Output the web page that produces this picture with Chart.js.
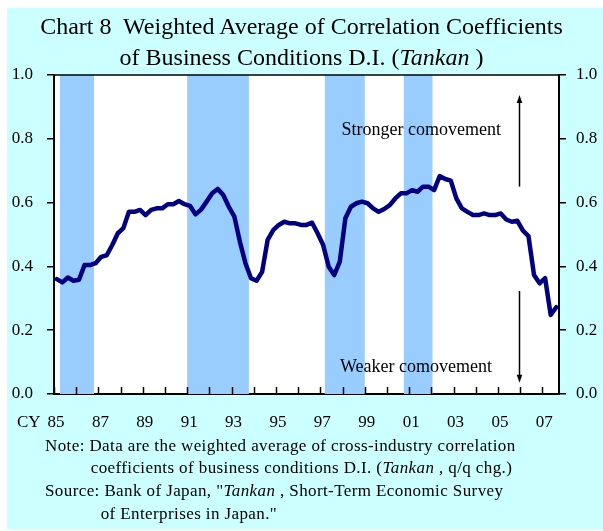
<!DOCTYPE html>
<html>
<head>
<meta charset="utf-8">
<script src="https://cdn.jsdelivr.net/npm/chart.js@4.4.1/dist/chart.umd.min.js"></script>
<style>
  html, body { margin: 0; padding: 0; background: #ffffff; }
  #wrap { position: relative; width: 603px; height: 531px; overflow: hidden; }
  #c { position: absolute; left: 0; top: 0; }
  .t { position: absolute; white-space: nowrap; font-family: 'Liberation Serif', 'Times New Roman', serif; color: #000; }
  #title { left: 0; top: 11px; width: 603px; text-align: center; font-size: 24px; line-height: 31px; }
  .note { font-size: 17px; line-height: 22.8px; letter-spacing: 0.4px; }
</style>
</head>
<body>
<div id="wrap">
  <canvas id="c" width="603" height="531"></canvas>
  <div class="t" id="title">Chart 8&nbsp; Weighted Average of Correlation Coefficients<br>of Business Conditions D.I. (<i>Tankan</i> )</div>
  <div class="t note" style="left:17px; top:411px; letter-spacing:0;">CY</div>
  <div class="t note" style="left:45px; top:434.6px;">Note: Data are the weighted average of cross-industry correlation</div>
  <div class="t note" style="left:90.7px; top:457.4px;">coefficients of business conditions D.I. (<i>Tankan</i> , q/q chg.)</div>
  <div class="t note" style="left:45px; top:480.2px;">Source: Bank of Japan, "<i>Tankan</i> , Short-Term Economic Survey</div>
  <div class="t note" style="left:100.7px; top:503px;">of Enterprises in Japan."</div>
</div>
<script>
// ---- data ----
const startYear = 1985;            // first quarter: 1985 Q1
const quarterValues = [
  0.360, 0.350, 0.365, 0.355, 0.358, 0.404, 0.404, 0.410, 0.430, 0.435,
  0.467, 0.504, 0.520, 0.571, 0.571, 0.577, 0.561, 0.577, 0.582, 0.582,
  0.595, 0.595, 0.605, 0.595, 0.590, 0.563, 0.578, 0.603, 0.629, 0.643,
  0.624, 0.587, 0.556, 0.477, 0.410, 0.363, 0.355, 0.383, 0.483, 0.514,
  0.530, 0.540, 0.535, 0.535, 0.530, 0.530, 0.537, 0.504, 0.467, 0.399,
  0.373, 0.415, 0.551, 0.587, 0.598, 0.603, 0.598, 0.582, 0.571, 0.580,
  0.592, 0.613, 0.629, 0.629, 0.639, 0.634, 0.650, 0.650, 0.639, 0.683,
  0.674, 0.669, 0.613, 0.582, 0.571, 0.561, 0.561, 0.566, 0.561, 0.561,
  0.566, 0.547, 0.540, 0.543, 0.512, 0.495, 0.373, 0.347, 0.363, 0.248,
  0.272
];
const tickYears  = [1985, 1987, 1989, 1991, 1993, 1995, 1997, 1999, 2001, 2003, 2005, 2007];
const tickLabels = ['85', '87', '89', '91', '93', '95', '97', '99', '01', '03', '05', '07'];
const bandStarts = [1985.27, 1991.00, 1997.20, 2000.76];
const bandEnds   = [1986.80, 1993.78, 1999.00, 2002.05];
const annotTexts = ['Stronger comovement', 'Weaker comovement'];
const annotX     = [1997.95, 1997.88];
const annotY     = [0.812, 0.070];
const arrowX     = [2005.95, 2005.95];
const arrowFrom  = [0.650, 0.323];
const arrowTo    = [0.937, 0.035];

const points = quarterValues.map((v, i) => ({ x: startYear + 0.125 + i * 0.25, y: v }));
const FONT = "'Liberation Serif', 'Times New Roman', serif";

const decor = {
  id: 'decor',
  beforeDraw(chart) {
    const { ctx, chartArea: a } = chart;
    ctx.save();
    ctx.fillStyle = '#ccffff';
    ctx.fillRect(7, 8, 603 - 7, 529 - 8);
    ctx.fillStyle = '#ffffff';
    ctx.fillRect(a.left, a.top, a.right - a.left, a.bottom - a.top);
    ctx.restore();
  },
  beforeDatasetsDraw(chart) {
    const { ctx, chartArea: a, scales } = chart;
    const x = scales.x;
    ctx.save();
    ctx.fillStyle = '#99ccff';
    for (let i = 0; i < bandStarts.length; i++) {
      const x0 = x.getPixelForValue(bandStarts[i]);
      const x1 = x.getPixelForValue(bandEnds[i]);
      ctx.fillRect(x0, a.top, x1 - x0, a.bottom - a.top);
    }
    ctx.restore();
  },
  afterDatasetsDraw(chart) {
    const { ctx, chartArea: a, scales } = chart;
    const x = scales.x, y = scales.y;
    ctx.save();
    // top frame line
    ctx.strokeStyle = '#000';
    ctx.lineWidth = 1.5;
    ctx.beginPath();
    ctx.moveTo(a.left, a.top);
    ctx.lineTo(a.right, a.top);
    ctx.stroke();
    // inward x ticks
    ctx.lineWidth = 1.5;
    for (const t of x.ticks) {
      if (!Number.isInteger(t.value)) continue;
      const px = Math.round(x.getPixelForValue(t.value)) + 0.5;
      ctx.beginPath();
      ctx.moveTo(px, a.bottom);
      ctx.lineTo(px, a.bottom - 7);
      ctx.stroke();
    }
    // annotation texts
    ctx.fillStyle = '#000';
    ctx.font = '18px ' + FONT;
    ctx.textAlign = 'left';
    ctx.textBaseline = 'alphabetic';
    for (let i = 0; i < annotTexts.length; i++) {
      ctx.fillText(annotTexts[i], x.getPixelForValue(annotX[i]), y.getPixelForValue(annotY[i]));
    }
    // arrows
    ctx.lineWidth = 1.5;
    for (let i = 0; i < arrowX.length; i++) {
      const px = Math.round(x.getPixelForValue(arrowX[i])) + 0.5;
      const y0 = y.getPixelForValue(arrowFrom[i]);
      const y1 = y.getPixelForValue(arrowTo[i]);
      const dir = y1 < y0 ? 1 : -1;
      ctx.beginPath();
      ctx.moveTo(px, y0);
      ctx.lineTo(px, y1 + dir * 6);
      ctx.stroke();
      ctx.beginPath();
      ctx.moveTo(px, y1);
      ctx.lineTo(px - 2.8, y1 + dir * 8);
      ctx.lineTo(px + 2.8, y1 + dir * 8);
      ctx.closePath();
      ctx.fill();
    }
    ctx.restore();
  }
};

new Chart(document.getElementById('c'), {
  type: 'line',
  data: {
    datasets: [{
      data: points,
      borderColor: '#000080',
      borderWidth: 4.5,
      pointRadius: 0,
      tension: 0,
      borderJoinStyle: 'round',
      borderCapStyle: 'round',
      fill: false,
      yAxisID: 'y'
    }]
  },
  options: {
    responsive: false,
    devicePixelRatio: 1,
    animation: false,
    events: [],
    layout: { padding: { left: 0, right: 0, top: 75, bottom: 100 } },
    plugins: { legend: { display: false }, tooltip: { enabled: false }, title: { display: false } },
    scales: {
      x: {
        type: 'linear',
        min: 1985,
        max: 2007.75,
        afterFit(s) { s.height = 37; },
        grid: { display: false, drawTicks: false },
        border: { display: true, color: '#000', width: 2 },
        ticks: {
          stepSize: 1,
          autoSkip: false,
          maxRotation: 0,
          includeBounds: false,
          padding: 18,
          labelOffset: 2,
          color: '#000',
          font: { family: FONT, size: 17 },
          callback(value) {
            const k = tickYears.indexOf(value);
            return k >= 0 ? tickLabels[k] : '';
          }
        }
      },
      y: {
        position: 'left',
        min: 0,
        max: 1,
        afterFit(s) { s.width = 54; },
        grid: { drawOnChartArea: false, drawTicks: true, tickLength: 7, color: '#000', lineWidth: 1.5 },
        border: { display: true, color: '#000', width: 2 },
        ticks: {
          stepSize: 0.2,
          padding: 14,
          color: '#000',
          font: { family: FONT, size: 17 },
          callback(v) { return Number(v).toFixed(1); }
        }
      },
      y2: {
        position: 'right',
        min: 0,
        max: 1,
        afterFit(s) { s.width = 44; },
        grid: { drawOnChartArea: false, drawTicks: true, tickLength: 7, color: '#000', lineWidth: 1.5 },
        border: { display: true, color: '#000', width: 2 },
        ticks: {
          stepSize: 0.2,
          padding: 10,
          color: '#000',
          font: { family: FONT, size: 17 },
          callback(v) { return Number(v).toFixed(1); }
        }
      }
    }
  },
  plugins: [decor]
});
</script>
</body>
</html>
